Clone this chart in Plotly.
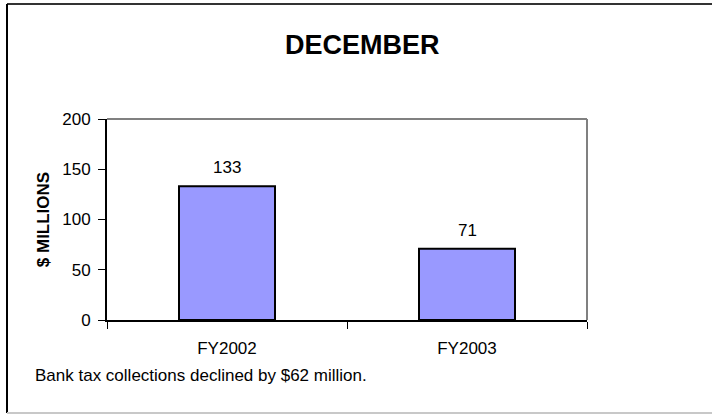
import plotly.graph_objects as go

categories = ["FY2002", "FY2003"]
values = [133, 71]
y_ticks = [0, 50, 100, 150, 200]
title_text = "DECEMBER"
y_title = "$ MILLIONS"
note_text = "Bank tax collections declined by $62 million."

FONT = "Liberation Sans, Arial, sans-serif"

fig = go.Figure()
fig.add_trace(go.Bar(
    x=categories, y=values, width=0.4,
    marker=dict(color="#9999FF", line=dict(color="black", width=2)),
    hoverinfo="skip",
))

for c, v in zip(categories, values):
    fig.add_annotation(x=c, y=v, text=str(v), showarrow=False,
                       yanchor="bottom", yshift=7,
                       font=dict(family=FONT, size=17, color="black"))

# plot area geometry (pixels): left 107, right 587, top 119, bottom 320
L, R, T, B = 107, 125, 119, 94
W = 712 - L - R
H = 414 - T - B

def px(x):
    return (x - L) / W

def py(y):
    return (414 - B - y) / H

fig.add_annotation(xref="paper", yref="paper", x=px(362), y=py(45),
                   text="<b>" + title_text + "</b>", showarrow=False,
                   xanchor="center", yanchor="middle",
                   font=dict(family=FONT, size=27, color="black"))
fig.add_annotation(xref="paper", yref="paper", x=px(33), y=py(375),
                   text=note_text, showarrow=False,
                   xanchor="left", yanchor="middle",
                   font=dict(family=FONT, size=17, color="black"))

# plot frame: gray top & right
fig.add_shape(type="line", xref="paper", yref="paper", x0=0, x1=1, y0=1, y1=1,
              line=dict(color="#808080", width=2))
fig.add_shape(type="line", xref="paper", yref="paper", x0=1, x1=1, y0=0, y1=1,
              line=dict(color="#808080", width=2))
# outer border
fig.add_shape(type="line", xref="paper", yref="paper", x0=px(7), x1=px(712), y0=py(4), y1=py(4),
              line=dict(color="#333333", width=2))
fig.add_shape(type="line", xref="paper", yref="paper", x0=px(7), x1=px(7), y0=py(4), y1=py(413),
              line=dict(color="black", width=2))
fig.add_shape(type="line", xref="paper", yref="paper", x0=px(7), x1=px(712), y0=py(413), y1=py(413),
              line=dict(color="#c8c8c8", width=2))

fig.update_layout(
    width=712, height=414,
    margin=dict(l=L, r=R, t=T, b=B),
    paper_bgcolor="white", plot_bgcolor="white",
    showlegend=False,
    font=dict(family=FONT, size=17, color="black"),
    xaxis=dict(
        type="category", showline=True, linecolor="black", linewidth=2,
        ticks="outside", tickson="boundaries", ticklen=7, tickcolor="black",
        tickwidth=1, showgrid=False, ticklabelstandoff=12,
        tickfont=dict(family=FONT, size=17, color="black"),
    ),
    yaxis=dict(
        range=[0, 200], tickvals=y_ticks, showline=True, linecolor="black",
        linewidth=2, ticks="outside", ticklen=7, tickcolor="black", tickwidth=1,
        showgrid=False, zeroline=False, ticklabelstandoff=4,
        tickfont=dict(family=FONT, size=17, color="black"),
        title=dict(text="<b>" + y_title + "</b>", standoff=8,
                   font=dict(family=FONT, size=17, color="black")),
    ),
)

fig.write_html("out.html", config={"displayModeBar": False},
               post_script="document.body.style.margin='0';")
